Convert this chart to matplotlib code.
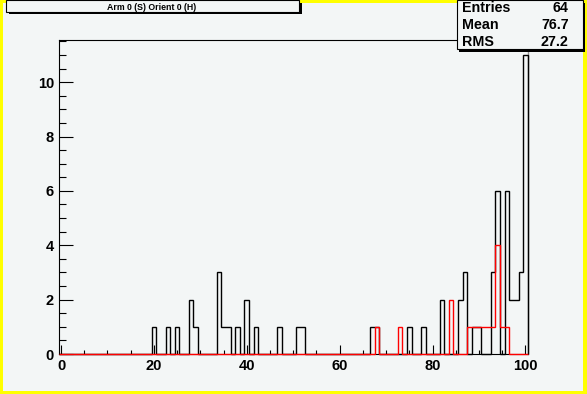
import numpy as np
import matplotlib
matplotlib.use('Agg')
import matplotlib.pyplot as plt
from matplotlib.patches import Rectangle
from matplotlib.ticker import MultipleLocator, FixedLocator
from matplotlib.transforms import Affine2D

W, H = 587, 394
plt.rcParams['font.family'] = ['Liberation Sans', 'DejaVu Sans']

# ---- data ----
bin_low, bin_high, n_bins = -0.5, 100.5, 101

black_x = [20, 23, 25, 28, 29, 34, 35, 36, 38, 40, 42, 47, 51, 52,
           67, 68, 75, 78, 82, 86, 87, 89, 90, 93, 94, 96, 97, 98, 99, 100]
black_n = [1, 1, 1, 2, 1, 3, 1, 1, 1, 2, 1, 1, 1, 1,
           1, 1, 1, 1, 2, 2, 3, 1, 1, 3, 6, 6, 2, 2, 3, 11]
red_x = [68, 73, 84, 88, 89, 90, 91, 92, 93, 94, 95, 96]
red_n = [1, 1, 2, 1, 1, 1, 1, 1, 1, 4, 1, 1]

title_text = 'Arm 0 (S) Orient 0 (H)'
stats_labels = ['Entries', 'Mean', 'RMS']
stats_values = ['64', '76.7', '27.2']
x_ticks = [0, 20, 40, 60, 80, 100]
y_ticks = [0, 2, 4, 6, 8, 10]

edges = np.linspace(bin_low, bin_high, n_bins + 1)
centers = 0.5 * (edges[:-1] + edges[1:])


def fill(xs, ns):
    arr = np.zeros(n_bins)
    for x, n in zip(xs, ns):
        arr[np.argmin(np.abs(centers - x))] = n
    return arr


black = fill(black_x, black_n)
red = fill(red_x, red_n)

pad_color = '#f3f6f6'

fig = plt.figure(figsize=(W / 100, H / 100), dpi=100)
fig.patch.set_facecolor('#ffff00')
pix = Affine2D().scale(1 / W, -1 / H).translate(0, 1) + fig.transFigure

# pad
fig.add_artist(Rectangle((3, 3), 580, 388, transform=pix, facecolor=pad_color,
                         edgecolor='none', zorder=-5))

ax = fig.add_axes([58.7 / W, 1 - 354 / H, (527.8 - 58.7) / W, (354 - 40) / H])
ax.set_facecolor('none')
ax.set_xlim(bin_low, bin_high)
ax.set_ylim(0, max(black.max(), red.max()) * 1.05)

ax.stairs(black, edges, baseline=0, color='black', lw=1.0, zorder=3, clip_on=False)
ax.stairs(red, edges, baseline=0, color='#ff0000', lw=1.0, zorder=4, clip_on=False)

for s in ['left', 'bottom', 'top']:
    ax.spines[s].set_color('black')
    ax.spines[s].set_linewidth(0.8)
ax.spines['right'].set_color('#909090')
ax.spines['right'].set_linewidth(1.0)

ax.xaxis.set_major_locator(FixedLocator(x_ticks))
ax.xaxis.set_minor_locator(MultipleLocator(5))
ax.yaxis.set_major_locator(FixedLocator(y_ticks))
ax.yaxis.set_minor_locator(MultipleLocator(0.5))
ax.tick_params(axis='x', which='major', direction='in', length=6.5, width=0.8,
               pad=3.4, labelsize=10.5, colors='black')
ax.tick_params(axis='x', which='minor', direction='in', length=3.2, width=0.8)
ax.tick_params(axis='y', which='major', direction='in', length=10, width=0.8,
               pad=3.4, labelsize=10.5)
ax.tick_params(axis='y', which='minor', direction='in', length=5, width=0.8)
ax.set_xticklabels([str(t) for t in x_ticks], fontweight='bold')
ax.set_yticklabels([str(t) for t in y_ticks], fontweight='bold')

# title box
fig.add_artist(Rectangle((9, 3), 293, 11, transform=pix, facecolor='black',
                         edgecolor='none', zorder=10))
fig.add_artist(Rectangle((6, 0), 293, 12.5, transform=pix, facecolor=pad_color,
                         edgecolor='black', lw=0.8, zorder=11))
fig.text(152 / W, 1 - 7.3 / H, title_text, ha='center', va='center',
         fontsize=6.3, fontweight='bold', zorder=12)

# stats box
fig.add_artist(Rectangle((459, 3), 126, 49, transform=pix, facecolor='black',
                         edgecolor='none', zorder=10))
fig.add_artist(Rectangle((457, 0), 125.5, 49.5, transform=pix, facecolor=pad_color,
                         edgecolor='black', lw=0.8, zorder=11))
for i, (lab, val) in enumerate(zip(stats_labels, stats_values)):
    yb = 11.7 + i * 17.4
    fig.text(462 / W, 1 - yb / H, lab, ha='left', va='baseline', fontsize=10.3,
             fontweight='bold', zorder=12)
    fig.text(568.5 / W, 1 - yb / H, val, ha='right', va='baseline', fontsize=10.3,
             fontweight='bold', zorder=12)

fig.savefig('out.png', dpi=100, facecolor=fig.get_facecolor())
